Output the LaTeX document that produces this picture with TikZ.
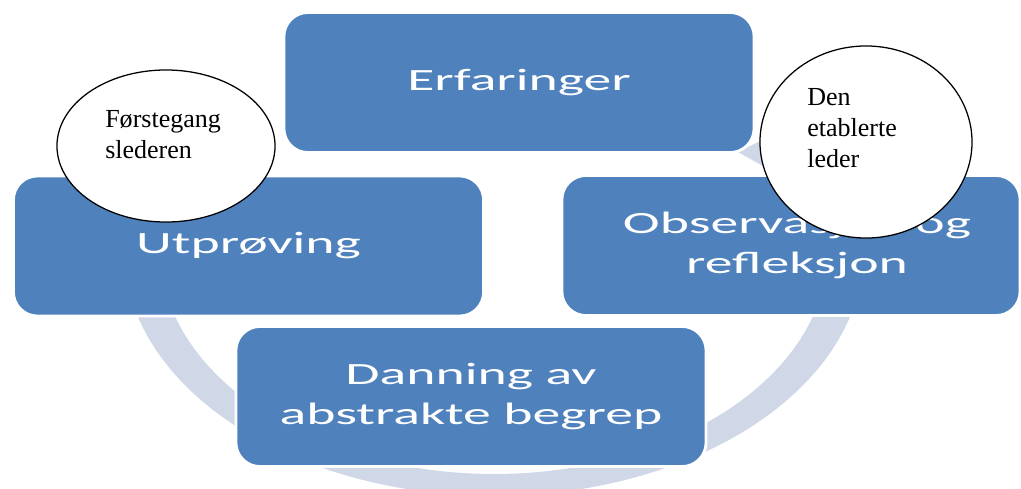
\documentclass[tikz,border=0pt]{standalone}
\usepackage{fontspec}
\setmainfont{Liberation Serif}
\newfontfamily\phasefont{Carlito}
\usepackage{tikz}
\usetikzlibrary{shapes.geometric, positioning}
\definecolor{cycleblue}{RGB}{79,129,189}
\definecolor{ringgray}{RGB}{208,216,232}
\newcommand{\widetext}[1]{\scalebox{1.8}[1]{#1}}

\begin{document}
\begin{tikzpicture}[x=0.025cm, y=-0.025cm,
    phase/.style={rectangle, rounded corners=0.6cm, fill=cycleblue, draw=white,
      line width=2pt, minimum width=11.75cm, minimum height=3.5cm, text=white,
      align=center, font=\phasefont\fontsize{22}{28.5}\selectfont},
    bubble/.style={ellipse, draw=black, line width=0.9pt, fill=white,
      inner sep=0pt},
    bubbletext/.style={anchor=north west, align=left, inner sep=0pt,
      font=\fontsize{18.5}{22}\selectfont}]
  \useasboundingbox (0,0) rectangle (1021,488);

  % ring behind the cycle
  \fill[ringgray] plot[domain=30:-210, samples=90] ({494+370*cos(\x)}, {250-246*sin(\x)})
    -- plot[domain=-210:30, samples=90] ({494+334*cos(\x)}, {250-224*sin(\x)}) -- cycle;
  \fill[ringgray] (738,152) -- (770,136) -- (770,170) -- cycle;

  % the four phases
  \node[phase] (erf) at (519,82.5) {\widetext{Erfaringer}};
  \node[phase, minimum width=11.45cm] (obs) at (791,245.5)
    {\hspace{0.3cm}\widetext{Observasjon og}\\\hspace{0.3cm}\widetext{refleksjon}};
  \node[phase] (dan) at (471,396.5) {\widetext{Danning av}\\\widetext{abstrakte begrep}};
  \node[phase] (utp) at (248.5,246) {\widetext{Utprøving}};

  % the two leaders
  \node[bubble, minimum width=5.45cm, minimum height=3.8cm] (first) at (166,146) {};
  \node[bubbletext] (firsttxt) at (105,110) {Førstegang\\slederen};
  \node[bubble, minimum width=5.3cm, minimum height=4.8cm] (estab) at (866,142) {};
  \node[bubbletext] (estabtxt) at (807,88) {Den\\etablerte\\leder};
\end{tikzpicture}
\end{document}
